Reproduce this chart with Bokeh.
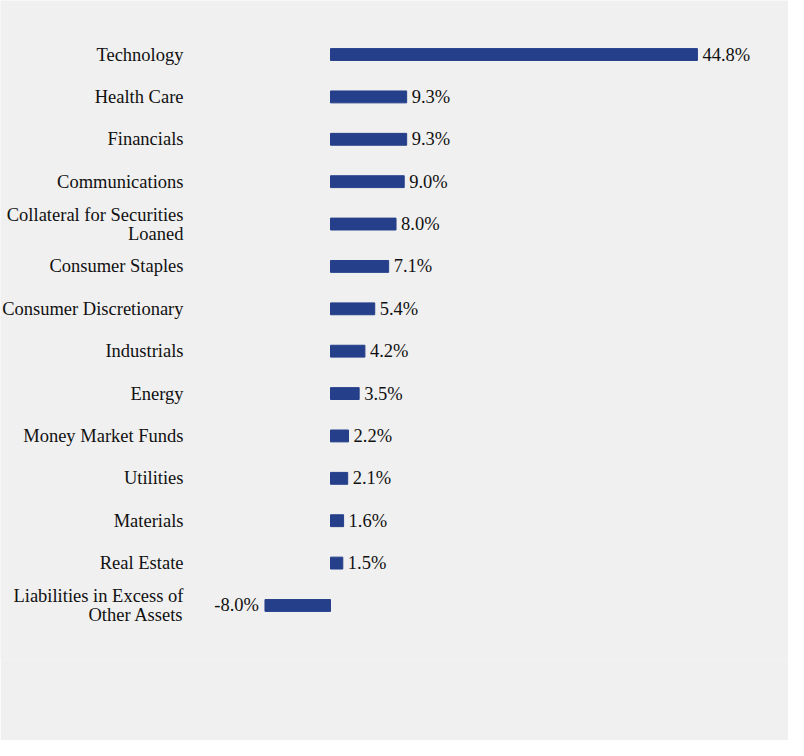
from bokeh.plotting import figure
from bokeh.models import ColumnDataSource, FactorRange, Range1d
from bokeh.core.properties import value
from bokeh.embed import file_html
from bokeh.resources import INLINE

categories = [
    "Technology", "Health Care", "Financials", "Communications",
    "Collateral for Securities\nLoaned", "Consumer Staples",
    "Consumer Discretionary", "Industrials", "Energy", "Money Market Funds",
    "Utilities", "Materials", "Real Estate", "Liabilities in Excess of\nOther Assets",
]
values = [44.8, 9.3, 9.3, 9.0, 8.0, 7.1, 5.4, 4.2, 3.5, 2.2, 2.1, 1.6, 1.5, -8.0]
value_labels = [f"{v:.1f}%" for v in values]

BG = "#f0f0f0"
BAR = "#253f8a"
FONT = "'Liberation Serif', 'Times New Roman', serif"

W, H = 788, 740
px_per_unit = 8.19
zero_px = 330
x_start = -zero_px / px_per_unit
x_end = (W - zero_px) / px_per_unit
label_x = (183 - zero_px) / px_per_unit

factors = list(reversed(categories))
yr = FactorRange(factors=factors, range_padding=0.775, range_padding_units="absolute")

p = figure(width=W, height=H, y_range=yr, x_range=Range1d(x_start, x_end),
           output_backend="svg", toolbar_location=None,
           min_border_left=0, min_border_right=0, min_border_top=0, min_border_bottom=81)
p.background_fill_color = BG
p.border_fill_color = BG
p.outline_line_color = None
p.xaxis.visible = False
p.yaxis.visible = False
p.xgrid.visible = False
p.ygrid.visible = False

src = ColumnDataSource(dict(
    cat=categories, val=values,
    lx=[label_x] * len(categories),
    plab=[l if v >= 0 else "" for l, v in zip(value_labels, values)],
    nlab=[l if v < 0 else "" for l, v in zip(value_labels, values)],
))

p.hbar(y="cat", left=0, right="val", height=0.28, source=src,
       fill_color=BAR, line_color=BAR)

p.text(x="lx", y="cat", text="cat", source=src, text_align="right",
       text_baseline="middle", text_font=value(FONT), text_font_size="18.5px",
       text_color="#111111", text_line_height=0.95)

p.text(x="val", y="cat", text="plab", source=src, x_offset=5, text_align="left",
       text_baseline="middle", text_font=value(FONT), text_font_size="18.5px",
       text_color="#111111")
p.text(x="val", y="cat", text="nlab", source=src, x_offset=-6, text_align="right",
       text_baseline="middle", text_font=value(FONT), text_font_size="18.5px",
       text_color="#111111")

open("out.html", "w").write(file_html(p, INLINE))
